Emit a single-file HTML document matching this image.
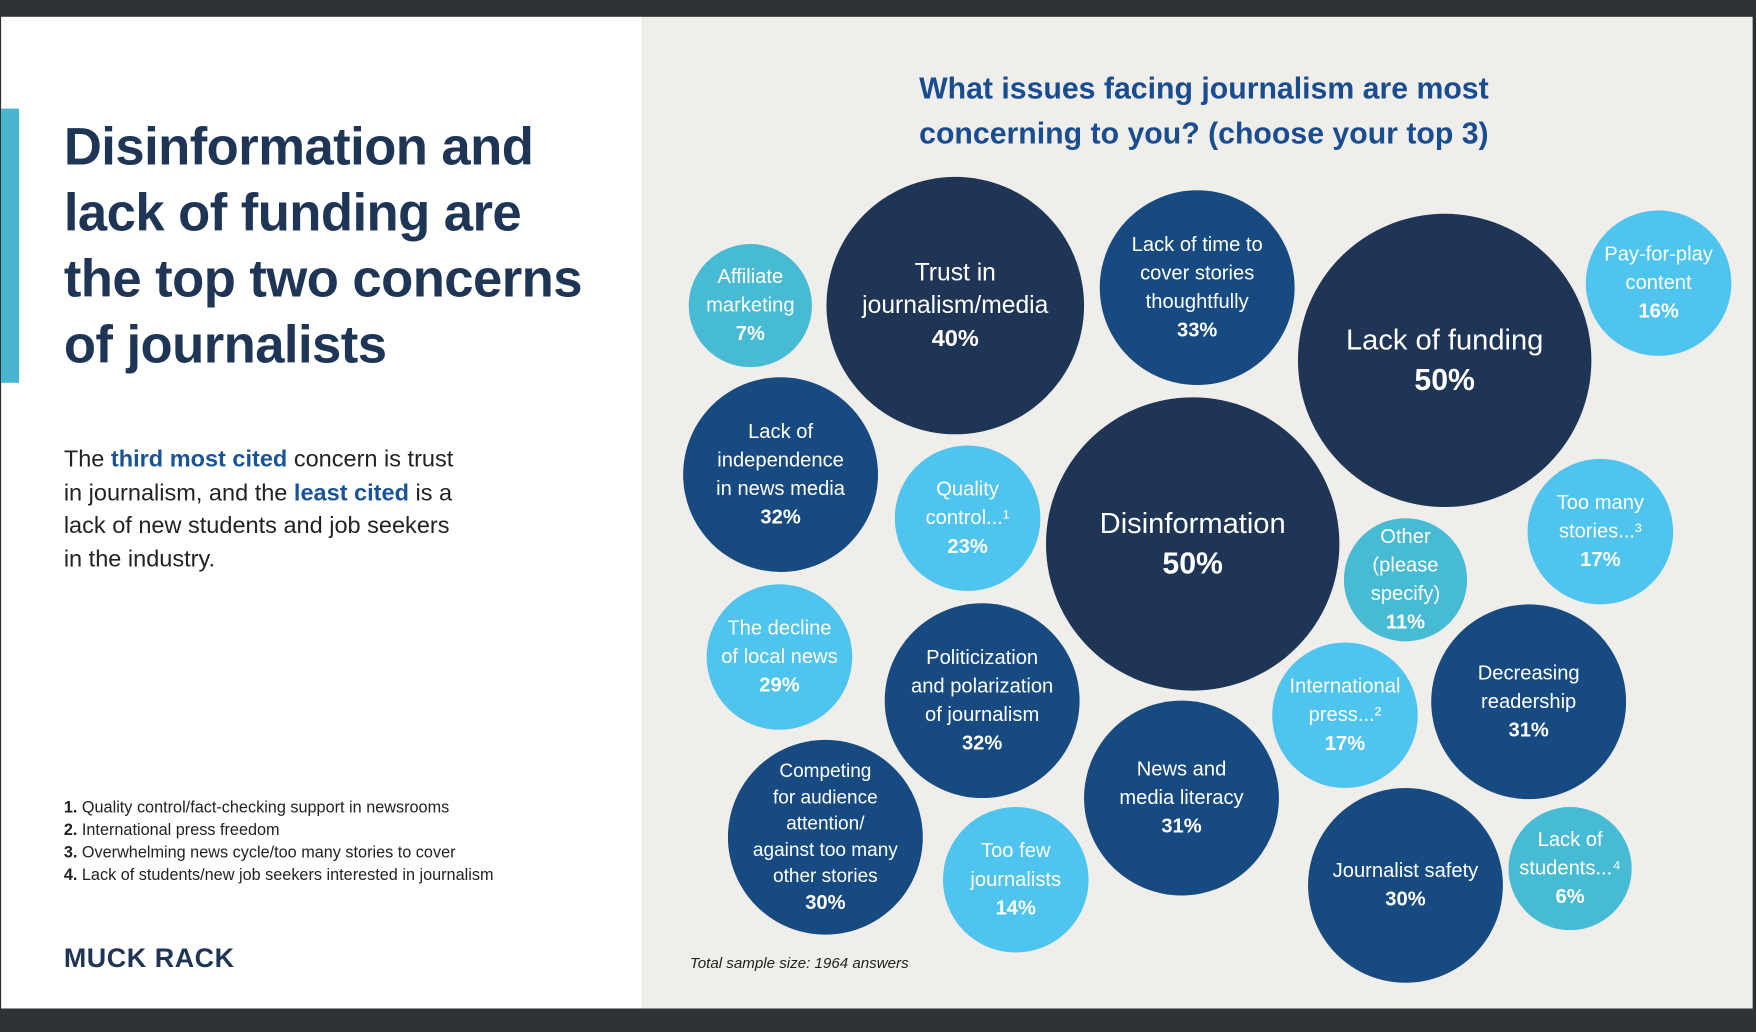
<!DOCTYPE html>
<html><head><meta charset="utf-8">
<style>
html,body{margin:0;padding:0;width:1756px;height:1032px;overflow:hidden;background:#2b2e33;}
#wrap{position:absolute;left:0;top:0;width:1568px;height:922px;transform:scale(1.1199,1.1193);transform-origin:0 0;font-family:"Liberation Sans",sans-serif;}
.abs{position:absolute;}
</style></head><body>
<div id="wrap">
 <div class="abs" style="left:0;top:0;width:1568px;height:15px;background:#2f3237"></div>
 <div class="abs" style="left:1px;top:15px;width:573px;height:886px;background:#fff"></div>
 <div class="abs" style="left:574px;top:15px;width:991px;height:886px;background:#efeeea"></div>
 <div class="abs" style="left:1px;top:97px;width:16px;height:245px;background:#48b6d0"></div>
 <div class="abs" style="left:57px;top:101px;font-size:47px;line-height:59px;font-weight:bold;color:#1f3556;letter-spacing:-0.5px">Disinformation and<br>lack of funding are<br>the top two concerns<br>of journalists</div>
 <div class="abs" style="left:57px;top:396px;font-size:21px;line-height:29.5px;color:#222">The <b style="color:#1a5496">third most cited</b> concern is trust<br>in journalism, and the <b style="color:#1a5496">least cited</b> is a<br>lack of new students and job seekers<br>in the industry.</div>
 <div class="abs" style="left:57px;top:712px;font-size:14.5px;line-height:20px;color:#222">
  <div><b>1.</b> Quality control/fact-checking support in newsrooms</div>
  <div><b>2.</b> International press freedom</div>
  <div><b>3.</b> Overwhelming news cycle/too many stories to cover</div>
  <div><b>4.</b> Lack of students/new job seekers interested in journalism</div>
 </div>
 <div class="abs" style="left:57px;top:843px;font-size:24px;font-weight:bold;color:#1f3556;letter-spacing:0.5px">MUCK RACK</div>
 <div class="abs" style="left:775px;top:59px;width:600px;text-align:center;font-size:27px;line-height:40px;font-weight:bold;color:#1a4d8f">What issues facing journalism are most<br>concerning to you? (choose your top 3)</div>
 <div class="abs" style="left:616px;top:853px;font-size:13.5px;font-style:italic;color:#222">Total sample size: 1964 answers</div>
 <svg id="chart" class="abs" style="left:0;top:0" width="1568" height="922"></svg>
 <div class="abs" style="left:0;top:901px;width:1568px;height:21px;background:#2f3237"></div>
</div>
<script>
const labels=[["Affiliate","marketing"],["Trust in","journalism/media"],["Lack of time to","cover stories","thoughtfully"],["Lack of funding"],["Pay-for-play","content"],["Lack of","independence","in news media"],["Quality","control...¹"],["Disinformation"],["Too many","stories...³"],["Other","(please","specify)"],["The decline","of local news"],["Politicization","and polarization","of journalism"],["International","press...²"],["Decreasing","readership"],["Competing","for audience","attention/","against too many","other stories"],["News and","media literacy"],["Too few","journalists"],["Journalist safety"],["Lack of","students...⁴"]];
const values=[7,40,33,50,16,32,23,50,17,11,29,32,17,31,30,31,14,30,6];
// visual style group of each bubble: 0 teal-small, 1 navy, 2 navy-large, 3 mid-blue, 4 light
const groups=[0,1,3,2,4,3,4,2,4,0,4,3,4,3,3,3,4,3,0];
// layout (bubble packing positions)
const layoutX=[670,853,1069,1290,1481,697,864,1065,1429,1255,696,877,1201,1365,737,1055,907,1255,1402];
const layoutY=[273,273,257,322,253,424,463,486,475,518,587,626,639,627,748,713,786,791,776];
const gR=[55,115,131,87,65];
const gC=["#47bbd3","#1f3556","#1f3556","#164a80","#4ec4ef"];
const svg=document.getElementById('chart');const NS="http://www.w3.org/2000/svg";
values.forEach((v,i)=>{
 const g=document.createElementNS(NS,'g');
 
 
 const grp=groups[i],r=gR[grp],cx=layoutX[i],cy=layoutY[i];
 const c=document.createElementNS(NS,'circle');
 c.setAttribute('cx',cx);c.setAttribute('cy',cy);c.setAttribute('r',r);c.setAttribute('fill',gC[grp]);
 
 
 g.appendChild(c);
 const big=grp==2, mid=grp==1;
 const many=labels[i].length>=4;
 const fs=big?26:mid?22:(many?17:18);
 const lh=big?36:mid?29:(many?23.5:25.5);
 const pfs=big?27:mid?21:18;
 const n=labels[i].length+1;
 const y0=cy-(n-1)*lh/2;
 labels[i].forEach((t,k)=>{
  const tx=document.createElementNS(NS,'text');
  tx.setAttribute('x',cx);tx.setAttribute('y',y0+k*lh);tx.setAttribute('text-anchor','middle');tx.setAttribute('dominant-baseline','central');
  tx.setAttribute('fill','#fff');tx.setAttribute('font-size',fs);tx.setAttribute('font-family','Liberation Sans, sans-serif');
  
  
  tx.textContent=t;g.appendChild(tx);
 });
 const p=document.createElementNS(NS,'text');
 p.setAttribute('x',cx);p.setAttribute('y',y0+(n-1)*lh);p.setAttribute('text-anchor','middle');p.setAttribute('dominant-baseline','central');
 p.setAttribute('fill','#fff');p.setAttribute('font-size',pfs);p.setAttribute('font-weight','bold');p.setAttribute('font-family','Liberation Sans, sans-serif');
 
 
 p.textContent=v+'%';g.appendChild(p);
 svg.appendChild(g);
});
</script>
</body></html>
